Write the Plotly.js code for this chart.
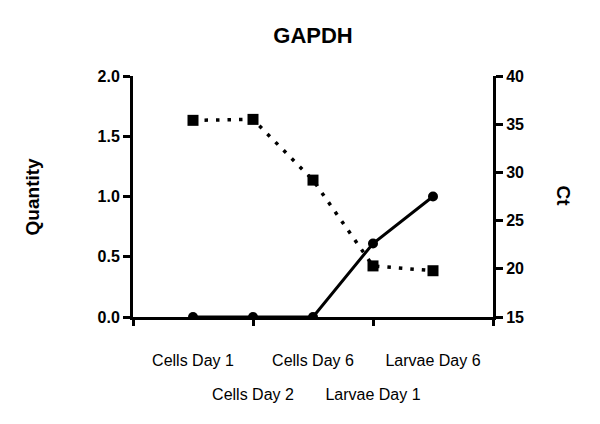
<!DOCTYPE html>
<html>
<head>
<meta charset="utf-8">
<script src="https://cdn.plot.ly/plotly-3.0.1.min.js"></script>
<style>
  body { margin: 0; background: #fff; }
  #plot { width: 600px; height: 424px; }
</style>
</head>
<body>
<div id="plot"></div>
<script>
// Sample labels and positions along the x axis
const samples = ['Cells Day 1', 'Cells Day 2', 'Cells Day 6', 'Larvae Day 1', 'Larvae Day 6'];
const samplePos = [1, 2, 3, 4, 5];

// Series values
const quantity = [0, 0, 0, 0.61, 1.0];
const ct = [35.4, 35.5, 29.2, 20.3, 19.8];

// Labels are staggered: odd samples on the upper row, even samples on the lower row
const upperPos = samplePos.filter((p, i) => i % 2 === 0);
const upperText = samples.filter((s, i) => i % 2 === 0);
const tickMarkPos = [0, 2, 4, 6];
const lowerText = tickMarkPos.map(p => (samplePos.includes(p) ? samples[samplePos.indexOf(p)] : ''));

const FONT = 'Liberation Sans, Arial, sans-serif';

const traceQuantity = {
    x: samplePos,
    y: quantity,
    type: 'scatter',
    mode: 'lines+markers',
    name: 'Quantity',
    line: { color: '#000', width: 3 },
    marker: { symbol: 'circle', size: 10, color: '#000' },
    xaxis: 'x',
    yaxis: 'y'
};

const traceCt = {
    x: samplePos,
    y: ct,
    type: 'scatter',
    mode: 'lines+markers',
    name: 'Ct',
    line: { color: '#000', width: 3.5, dash: '3.5px,8px' },
    marker: { symbol: 'square', size: 11, color: '#000' },
    xaxis: 'x',
    yaxis: 'y2'
};

// Invisible trace so the overlay tick axis gets drawn
const tickHolder = {
    x: [0],
    y: [0],
    type: 'scatter',
    mode: 'markers',
    marker: { opacity: 0 },
    hoverinfo: 'skip',
    xaxis: 'x2',
    yaxis: 'y'
};

const tickFont = { family: FONT, size: 16, color: '#000', weight: 'bold' };
const labelFont = { family: FONT, size: 16, color: '#000' };

const layout = {
    width: 600,
    height: 424,
    paper_bgcolor: '#fff',
    plot_bgcolor: '#fff',
    showlegend: false,
    margin: { l: 133, r: 107, t: 76, b: 107 },
    title: {
        text: '<b>GAPDH</b>',
        xref: 'paper',
        x: 0.5,
        xanchor: 'center',
        yref: 'container',
        y: 0.916,
        yanchor: 'middle',
        font: { family: FONT, size: 22, color: '#000' }
    },
    xaxis: {
        range: [0, 6],
        tickvals: upperPos,
        ticktext: upperText,
        tickangle: 0,
        ticks: '',
        ticklabelstandoff: 27,
        showgrid: false,
        zeroline: false,
        showline: true,
        linecolor: '#000',
        linewidth: 3,
        tickfont: labelFont
    },
    // Overlay axis: tick marks at every second position plus the lower label row
    xaxis2: {
        overlaying: 'x',
        anchor: 'y',
        range: [0, 6],
        tickvals: tickMarkPos,
        ticktext: lowerText,
        tickangle: 0,
        ticks: 'outside',
        ticklen: 8,
        tickwidth: 3,
        tickcolor: '#000',
        ticklabelstandoff: 55,
        tickfont: labelFont,
        showgrid: false,
        zeroline: false,
        showline: false
    },
    yaxis: {
        range: [0, 2],
        tickvals: [0, 0.5, 1, 1.5, 2],
        ticktext: ['0.0', '0.5', '1.0', '1.5', '2.0'],
        ticks: 'outside',
        ticklen: 7,
        tickwidth: 3,
        tickcolor: '#000',
        showgrid: false,
        zeroline: false,
        showline: true,
        linecolor: '#000',
        linewidth: 3,
        tickfont: tickFont
    },
    yaxis2: {
        overlaying: 'y',
        side: 'right',
        anchor: 'x',
        range: [15, 40],
        tickvals: [15, 20, 25, 30, 35, 40],
        ticks: 'outside',
        ticklen: 7,
        tickwidth: 3,
        tickcolor: '#000',
        showgrid: false,
        zeroline: false,
        showline: true,
        linecolor: '#000',
        linewidth: 3,
        tickfont: tickFont
    },
    annotations: [
        {
            text: '<b>Quantity</b>',
            xref: 'paper', yref: 'paper',
            x: -0.278, y: 0.5,
            xanchor: 'center', yanchor: 'middle',
            textangle: -90,
            showarrow: false,
            font: { family: FONT, size: 19, color: '#000' }
        },
        {
            text: '<b>Ct</b>',
            xref: 'paper', yref: 'paper',
            x: 1.197, y: 0.5,
            xanchor: 'center', yanchor: 'middle',
            textangle: 90,
            showarrow: false,
            font: { family: FONT, size: 19, color: '#000' }
        }
    ]
};

Plotly.newPlot('plot', [tickHolder, traceQuantity, traceCt], layout, { staticPlot: true });
</script>
</body>
</html>
